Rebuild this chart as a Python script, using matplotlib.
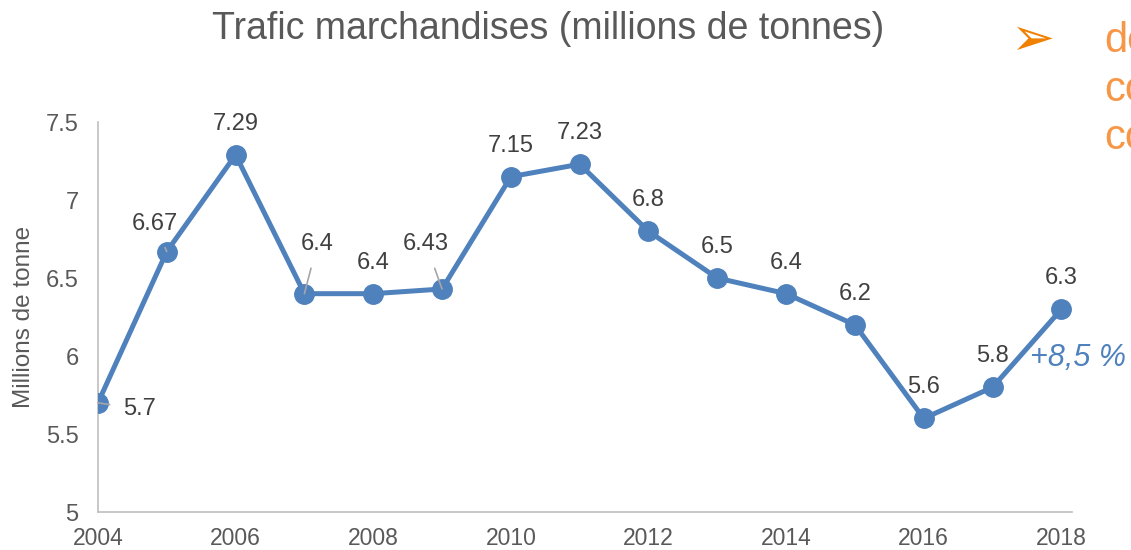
import matplotlib.pyplot as plt

plt.rcParams['font.family'] = ['Liberation Sans', 'DejaVu Sans']

years = [2004, 2005, 2006, 2007, 2008, 2009, 2010, 2011, 2012, 2013, 2014, 2015, 2016, 2017, 2018]
trafic = [5.7, 6.67, 7.29, 6.4, 6.4, 6.43, 7.15, 7.23, 6.8, 6.5, 6.4, 6.2, 5.6, 5.8, 6.3]
labels = ['5.7', '6.67', '7.29', '6.4', '6.4', '6.43', '7.15', '7.23', '6.8', '6.5', '6.4', '6.2', '5.6', '5.8', '6.3']

# label offsets in pixels (dx, dy), and whether a leader line is drawn
offsets = {0: (42, -6), 1: (-12, 28), 3: (13, 50), 5: (-16, 45)}
leaders = {0, 1, 3, 5}

blue = '#4F81BD'
grey_txt = '#404040'

fig = plt.figure(figsize=(11.31, 5.5), dpi=100)
ax = fig.add_axes([0.0866, 0.069, 0.861, 0.709])

ax.plot(years, trafic, color=blue, lw=3.6, marker='o', markersize=14, zorder=3)

for i, (x, y) in enumerate(zip(years, trafic)):
    dx, dy = offsets.get(i, (0, 31))
    if i in leaders:
        ax.annotate(labels[i], (x, y), xytext=(dx, dy), textcoords='offset pixels',
                    ha='center', va='center', fontsize=17, color=grey_txt,
                    arrowprops=dict(arrowstyle='-', color='#A6A6A6', lw=1.2,
                                    shrinkA=8, shrinkB=0))
    else:
        ax.annotate(labels[i], (x, y), xytext=(dx, dy), textcoords='offset pixels',
                    ha='center', va='center', fontsize=17, color=grey_txt)

ax.text(2017.55, 5.99, '+8,5 %', fontsize=22, style='italic', color=blue,
        ha='left', va='center')

ax.set_xlim(2004, 2018.15)
ax.set_ylim(5, 7.5)
ax.set_xticks(range(2004, 2019, 2))
ax.set_yticks([5, 5.5, 6, 6.5, 7, 7.5])
ax.set_yticklabels(['5', '5.5', '6', '6.5', '7', '7.5'])
ax.tick_params(length=0, labelsize=17, labelcolor='#595959')
ax.tick_params(axis='y', pad=14)
ax.tick_params(axis='x', pad=11, labelsize=16.5)
for s in ['top', 'right']:
    ax.spines[s].set_visible(False)
for s in ['left', 'bottom']:
    ax.spines[s].set_color('#BFBFBF')
    ax.spines[s].set_linewidth(1.2)

ax.set_ylabel('Millions de tonne', fontsize=17.5, color='#595959', labelpad=8)

fig.text(0.485, 0.947, 'Trafic marchandises (millions de tonnes)', fontsize=27,
         color='#595959', ha='center', va='center')

# cropped orange side text (cut by the right edge, as in the source slide)
fig.text(0.893, 0.928, '\u27a2', fontsize=38, color='#F08000', ha='left', va='center',
         family=['DejaVu Sans'])
for k, w in enumerate(['des', 'com', 'con']):
    fig.text(0.976, 0.925 - k * 0.088, w, fontsize=30, color='#F79646',
             ha='left', va='center')

fig.savefig('out.png', dpi=100)
